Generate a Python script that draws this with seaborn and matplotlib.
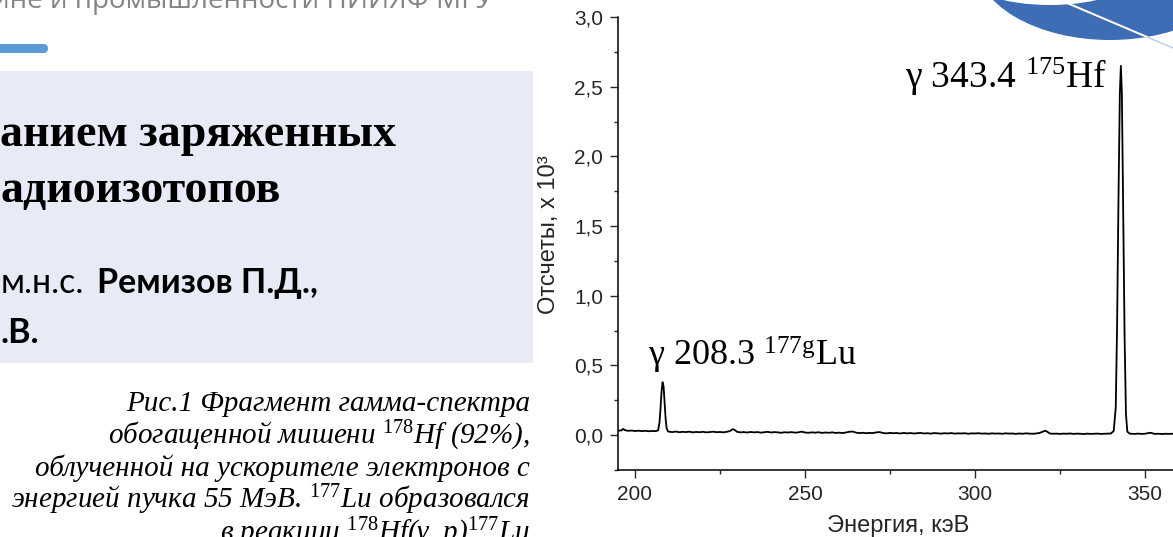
import matplotlib
matplotlib.use("Agg")
import matplotlib.pyplot as plt
import matplotlib.patches as mpatches
from matplotlib.ticker import MultipleLocator
import seaborn as sns
import pandas as pd

# gamma spectrum fragment, counts in units of 10^3
energy = [
    195, 196, 196.5, 197, 198, 199, 200, 201, 202, 203, 204, 205, 206, 206.8,
    207.2, 207.5, 207.8, 208.1, 208.4, 208.7, 209.0, 209.3, 209.7,
    210, 211, 212, 213, 214, 215, 216, 217, 218, 219, 220, 221, 222, 223, 224,
    225, 226, 227, 228, 228.7, 229.3, 230, 231, 232, 233, 234, 235, 236, 237,
    238, 239, 240, 241, 242, 243, 244, 245, 246, 247, 248, 249, 250, 251, 252,
    253, 254, 255, 256, 257, 258, 259, 260, 261, 262, 263, 264, 265, 266, 267,
    268, 269, 270, 271, 272, 273, 274, 275, 276, 277, 278, 279, 280, 281, 282,
    283, 284, 285, 286, 287, 288, 289, 290, 291, 292, 293, 294, 295, 296, 297,
    298, 299, 300, 301, 302, 303, 304, 305, 306, 307, 308, 309, 310, 311, 312,
    313, 314, 315, 316, 317, 318, 319, 320, 320.7, 321.4, 322, 323, 324, 325,
    326, 327, 328, 329, 330, 331, 332, 333, 334, 335, 336, 337, 338, 339, 340,
    340.8, 341.4, 341.8, 342.2, 342.6, 342.9, 343.2, 343.6, 344.0, 344.4, 344.8,
    345.5, 346, 347, 348, 349, 350, 351, 351.7, 352.5, 353, 354, 355, 356, 357,
    358, 359, 360, 361,
]
counts = [
    0.032, 0.034, 0.045, 0.036, 0.031, 0.033, 0.030, 0.032, 0.029, 0.031, 0.028, 0.030, 0.029, 0.034,
    0.09, 0.19, 0.31, 0.38, 0.35, 0.24, 0.12, 0.05, 0.027,
    0.025, 0.022, 0.026, 0.021, 0.024, 0.022, 0.025, 0.020, 0.023, 0.021, 0.024, 0.020, 0.022, 0.025, 0.021,
    0.023, 0.020, 0.024, 0.030, 0.043, 0.038, 0.024, 0.020, 0.022, 0.019, 0.023, 0.020, 0.022, 0.018,
    0.021, 0.024, 0.019, 0.022, 0.020, 0.017, 0.021, 0.019, 0.022, 0.018, 0.020, 0.025, 0.019, 0.017, 0.020,
    0.018, 0.021, 0.016, 0.019, 0.017, 0.020, 0.016, 0.018, 0.015, 0.019, 0.024, 0.026, 0.018, 0.015, 0.017,
    0.014, 0.016, 0.015, 0.020, 0.022, 0.015, 0.013, 0.016, 0.014, 0.015, 0.012, 0.016, 0.013, 0.015, 0.012,
    0.014, 0.016, 0.012, 0.014, 0.011, 0.015, 0.013, 0.011, 0.014, 0.012, 0.015, 0.011, 0.013, 0.012, 0.014,
    0.010, 0.013, 0.012, 0.014, 0.011, 0.012, 0.010, 0.013, 0.011, 0.012, 0.010, 0.013, 0.011, 0.012, 0.009,
    0.012, 0.010, 0.013, 0.011, 0.010, 0.012, 0.016, 0.026, 0.032, 0.022, 0.012, 0.010, 0.011, 0.009,
    0.011, 0.010, 0.012, 0.009, 0.011, 0.010, 0.008, 0.011, 0.009, 0.010, 0.011, 0.009, 0.010, 0.011, 0.012,
    0.03, 0.20, 0.80, 1.70, 2.45, 2.65, 2.45, 1.60, 0.70, 0.15, 0.025,
    0.011, 0.010, 0.009, 0.011, 0.009, 0.010, 0.015, 0.017, 0.011, 0.009, 0.010, 0.008, 0.010, 0.009,
    0.010, 0.008, 0.009, 0.009,
]

xtick_values = [200, 250, 300, 350]
ytick_values = [0.0, 0.5, 1.0, 1.5, 2.0, 2.5, 3.0]
ytick_labels = ["0,0", "0,5", "1,0", "1,5", "2,0", "2,5", "3,0"]

peak_labels = ["γ 343.4 $^{175}$Hf", "γ 208.3 $^{177\\mathrm{g}}$Lu"]
peak_label_pos = [(279.4, 2.488), (203.8, 0.50)]
peak_label_size = [27, 26]

title_lines = ["анием заряженных", "адиоизотопов"]
caption_lines = [
    "Рис.1 Фрагмент гамма-спектра",
    "обогащенной мишени $^{\\mathit{178}}$Hf (92%),",
    "облученной на ускорителе электронов с",
    "энергией пучка 55 МэВ. $^{\\mathit{177}}$Lu образовался",
    "в реакции $^{\\mathit{178}}$Hf(γ, p)$^{\\mathit{177}}$Lu",
]

df = pd.DataFrame({"energy": energy, "counts": counts})

sns.set_style("ticks")
plt.rcParams["font.family"] = ["Liberation Sans", "DejaVu Sans"]
plt.rcParams["mathtext.fontset"] = "custom"
plt.rcParams["mathtext.rm"] = "Liberation Serif"
plt.rcParams["mathtext.it"] = "Liberation Serif:italic"
plt.rcParams["mathtext.bf"] = "Liberation Serif:bold"

W, H = 1173, 537
fig = plt.figure(figsize=(W / 100, H / 100), dpi=100)

# slide decorations, in pixel coordinates
deco = fig.add_axes([0, 0, 1, 1], zorder=0)
deco.set_xlim(0, W)
deco.set_ylim(H, 0)
deco.axis("off")

deco.add_patch(mpatches.Rectangle((0, 71), 533, 292, color="#E8EBF6", lw=0))
deco.add_patch(mpatches.FancyBboxPatch((-20, 44), 68, 9, boxstyle="round,pad=0,rounding_size=4.5",
                                       color="#5B9BD5", lw=0))
deco.text(493, 8, "дицине и промышленности НИИЯФ МГУ", ha="right", va="baseline",
          family="Open Sans", size=20, color="#858585")

for i, line in enumerate(title_lines):
    deco.text(0, 146 + 56 * i, line, ha="left", va="baseline", family="Liberation Serif",
              weight="bold", size=33, color="black")

deco.text(1, 293, "м.н.с.", ha="left", va="baseline", family="Lato", size=24.5, color="black")
deco.text(97, 293, "Ремизов П.Д.,", ha="left", va="baseline", family="Lato", weight="bold",
          size=24.5, color="black")
deco.text(0, 343, ".В.", ha="left", va="baseline", family="Lato", weight="bold", size=24.5, color="black")

for i, line in enumerate(caption_lines):
    deco.text(530, 411 + 32.5 * i, line, ha="right", va="baseline", family="Liberation Serif",
              style="italic", size=21, color="black")

# logo fragment top right
logo = mpatches.Ellipse((1110, -40), 270, 160, color="#3E6DB5", lw=0)
deco.add_patch(logo)
deco.add_patch(mpatches.Ellipse((1050, -25), 170, 60, color="white", lw=0))
deco.plot([1060, 1173], [0, 48], color="#B7CBE8", lw=1.0)
cut = deco.plot([1060, 1173], [0, 48], color="white", lw=1.4)[0]
cut.set_clip_path(logo)

# spectrum
ax = fig.add_axes([618 / W, (H - 470) / H, 561 / W, 453 / H], zorder=1)
ax.set_facecolor("none")
sns.lineplot(data=df, x="energy", y="counts", ax=ax, color="black", linewidth=1.3)

ax.set_xlim(195, 360)
ax.set_ylim(-0.25, 3.0)
ax.set_xticks(xtick_values)
ax.set_yticks(ytick_values)
ax.set_yticklabels(ytick_labels)
ax.xaxis.set_minor_locator(MultipleLocator(25))
ax.yaxis.set_minor_locator(MultipleLocator(0.25))
ax.tick_params(which="major", direction="out", length=5.8, width=1.0, labelsize=15, pad=5)
ax.tick_params(which="minor", direction="out", length=2.9, width=1.0)
sns.despine(ax=ax)
for side in ["left", "bottom"]:
    ax.spines[side].set_linewidth(1.1)
    ax.spines[side].set_color("black")

ax.set_xlabel("Энергия, кэВ", fontsize=17)
ax.set_ylabel("Отсчеты, х 10³", fontsize=17)
ax.xaxis.set_label_coords(0.499, -0.100)
ax.yaxis.set_label_coords(-0.104, 0.519)

for text, (x, y), size in zip(peak_labels, peak_label_pos, peak_label_size):
    ax.text(x, y, text, ha="left", va="baseline", family="Liberation Serif", size=size, color="black")

fig.savefig("out.png", dpi=100)
